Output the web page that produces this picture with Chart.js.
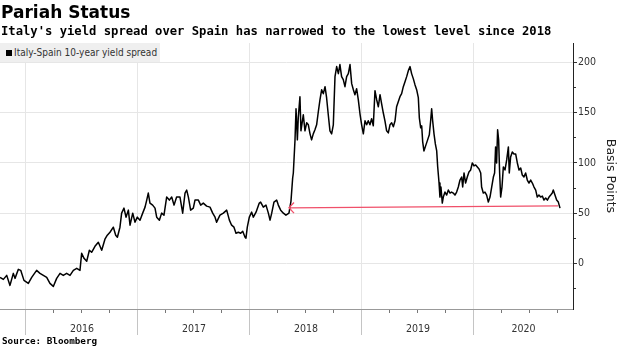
<!DOCTYPE html>
<html>
<head>
<meta charset="utf-8">
<script src="https://cdn.jsdelivr.net/npm/chart.js@4.4.1/dist/chart.umd.min.js"></script>
<style>
  html, body { margin: 0; padding: 0; background: #fff; }
  #wrap { position: relative; width: 620px; height: 348px; overflow: hidden; }
  #chart { position: absolute; left: 0; top: 0; }
  .title { position: absolute; left: 1px; top: 4px; font: bold 17px/17px "DejaVu Sans", sans-serif; color: #000; white-space: nowrap; }
  .subtitle { position: absolute; left: 1px; top: 25px; font: bold 12.2px/12.2px "DejaVu Sans Mono", monospace; color: #000; white-space: nowrap; }
  .legend { position: absolute; left: 0; top: 43px; width: 160px; height: 19px; background: #efefef; z-index: 2; }
  .legend .sq { position: absolute; left: 6px; top: 7px; width: 6px; height: 6px; background: #000; }
  .legend .txt { position: absolute; left: 14px; top: 4px; font: 10px/11px "DejaVu Sans Condensed", "DejaVu Sans", sans-serif; color: #333; white-space: nowrap; }
  .source { position: absolute; left: 2px; top: 336px; font: bold 9.3px/10px "DejaVu Sans Mono", monospace; color: #000; white-space: nowrap; }
</style>
</head>
<body>
<div id="wrap">
  <canvas id="chart" width="620" height="348"></canvas>
  <div class="title">Pariah Status</div>
  <div class="subtitle">Italy's yield spread over Spain has narrowed to the lowest level since 2018</div>
  <div class="legend"><div class="sq"></div><div class="txt">Italy-Spain 10-year yield spread</div></div>
  <div class="source">Source: Bloomberg</div>
</div>
<script>
// 축 범위 (소수 연도 / 베이시스 포인트)
const xMin = 2015.768;
const xMax = 2020.884;
const yMin = -45.5;
const yMax = 219.5;

// x축 연도 라벨과 위치
const yearLabels = ['2016', '2017', '2018', '2019', '2020'];
const yearLabelAt = [2016.5, 2017.5, 2018.5, 2019.5, 2020.442];

// y축 눈금
const bpTicks = [-25, 0, 25, 50, 75, 100, 125, 150, 175, 200];

// 이탈리아-스페인 10년물 스프레드
const spreadYears = [
    2015.768, 2015.798, 2015.828, 2015.857, 2015.887, 2015.902, 2015.932, 2015.953, 2015.982,
    2016.021, 2016.051, 2016.095, 2016.125, 2016.155, 2016.185, 2016.214, 2016.244, 2016.274,
    2016.304, 2016.333, 2016.363, 2016.393, 2016.423, 2016.453, 2016.482, 2016.497, 2016.518,
    2016.542, 2016.566, 2016.586, 2016.616, 2016.646, 2016.676, 2016.705, 2016.726, 2016.750,
    2016.780, 2016.801, 2016.816, 2016.839, 2016.854, 2016.875, 2016.893, 2016.914, 2016.929,
    2016.953, 2016.973, 2016.994,
    2017.018, 2017.042, 2017.063, 2017.078, 2017.092, 2017.107, 2017.131, 2017.152, 2017.167,
    2017.191, 2017.211, 2017.232, 2017.256, 2017.280, 2017.301, 2017.322, 2017.345, 2017.375,
    2017.399, 2017.420, 2017.435, 2017.450, 2017.470, 2017.494, 2017.509, 2017.539, 2017.560,
    2017.583, 2017.613, 2017.643, 2017.667, 2017.688, 2017.702, 2017.732, 2017.762, 2017.792,
    2017.816, 2017.836, 2017.857, 2017.875, 2017.896, 2017.917, 2017.935, 2017.956, 2017.964,
    2017.976, 2017.994,
    2018.015, 2018.030, 2018.054, 2018.083, 2018.095, 2018.119, 2018.143, 2018.164, 2018.179,
    2018.194, 2018.214, 2018.238, 2018.253, 2018.274, 2018.298, 2018.321, 2018.348, 2018.366,
    2018.381, 2018.387, 2018.402, 2018.411, 2018.423, 2018.431, 2018.446, 2018.455, 2018.476,
    2018.491, 2018.506, 2018.521, 2018.536, 2018.550, 2018.565, 2018.580, 2018.595, 2018.610,
    2018.625, 2018.640, 2018.655, 2018.670, 2018.684, 2018.699, 2018.714, 2018.729, 2018.744,
    2018.759, 2018.774, 2018.789, 2018.803, 2018.818, 2018.833, 2018.848, 2018.863, 2018.878,
    2018.893, 2018.908, 2018.923, 2018.937, 2018.952, 2018.967, 2018.982, 2018.997,
    2019.012, 2019.027, 2019.042, 2019.056, 2019.071, 2019.086, 2019.101, 2019.116, 2019.131,
    2019.146, 2019.161, 2019.175, 2019.190, 2019.205, 2019.220, 2019.235, 2019.250, 2019.265,
    2019.280, 2019.295, 2019.309, 2019.324, 2019.339, 2019.354, 2019.369, 2019.384, 2019.399,
    2019.414, 2019.429, 2019.443, 2019.458, 2019.473, 2019.488, 2019.503, 2019.512, 2019.524,
    2019.533, 2019.542, 2019.553, 2019.571, 2019.586, 2019.601, 2019.613, 2019.622, 2019.631,
    2019.643, 2019.655, 2019.667, 2019.676, 2019.688, 2019.696, 2019.705, 2019.717, 2019.726,
    2019.741, 2019.756, 2019.771, 2019.786, 2019.800, 2019.815, 2019.830, 2019.845, 2019.860,
    2019.875, 2019.890, 2019.899, 2019.911, 2019.925, 2019.940, 2019.955, 2019.970, 2019.985,
    2020.000, 2020.015, 2020.030, 2020.045, 2020.060, 2020.068, 2020.083, 2020.098, 2020.113,
    2020.128, 2020.143, 2020.158, 2020.173, 2020.184, 2020.193, 2020.202, 2020.211, 2020.220,
    2020.229, 2020.238, 2020.250, 2020.262, 2020.277, 2020.292, 2020.307, 2020.315, 2020.327,
    2020.342, 2020.357, 2020.372, 2020.387, 2020.402, 2020.417, 2020.431, 2020.446, 2020.461,
    2020.476, 2020.491, 2020.506, 2020.521, 2020.536, 2020.551, 2020.565, 2020.580, 2020.595,
    2020.610, 2020.625, 2020.640, 2020.655, 2020.670, 2020.685, 2020.699, 2020.708, 2020.723,
    2020.738, 2020.753, 2020.768
];
const spreadBps = [
    -14, -16, -12, -22, -10, -15, -6, -7, -17,
    -20, -14, -7, -10, -12, -14, -20, -23, -15,
    -10, -12, -10, -12, -7, -5, -7, 10, 5,
    2, 13, 11, 17, 21, 13, 24, 28, 31,
    36, 28, 26, 36, 50, 55, 46, 53, 38,
    50, 41, 46,
    43, 50, 56, 63, 70, 60, 58, 55, 46,
    43, 50, 48, 66, 63, 66, 58, 66, 66,
    50, 70, 73, 66, 53, 55, 63, 63, 58,
    60, 57, 56, 50, 46, 41, 48, 50, 53,
    43, 38, 36, 30, 31, 30, 32, 26, 25,
    36, 46,
    51, 46, 51, 60, 61, 56, 58, 50, 43,
    50, 61, 63, 58, 53, 50, 48, 50, 62,
    85, 90, 123, 154, 123, 145, 166, 132, 148,
    132, 140, 138, 129, 123, 129, 133, 138, 151,
    163, 173, 169, 176, 165, 148, 132, 129, 138,
    186, 196, 189, 198, 186, 183, 176, 186, 189,
    198, 179, 173, 168, 174, 163, 149, 138,
    129, 142, 138, 142, 138, 144, 137, 172, 163,
    156, 168, 159, 150, 142, 132, 130, 138, 140,
    136, 142, 156, 161, 166, 169, 176, 181, 186,
    192, 196, 189, 184, 178, 173, 165, 145, 135,
    137, 121, 112, 118, 123, 128, 142, 154, 142,
    129, 119, 112, 96, 80, 66, 76, 60, 66,
    71, 68, 73, 70, 71, 70, 68, 71, 76,
    83, 86, 76, 90, 80, 86, 91, 93, 100,
    97, 98, 96, 94, 90, 76, 70, 71, 68,
    61, 66, 76, 86, 90, 116, 100, 133, 123,
    90, 66, 76, 96, 93, 103, 116, 90, 106,
    111, 109, 109, 100, 93, 95, 88, 86, 90,
    83, 80, 83, 80, 76, 73, 66, 68, 66,
    67, 63, 65, 63, 66, 68, 70, 73, 68,
    63, 61, 55
];

// 빨간 화살표 (2018년 수준 표시)
const arrowYears = [2018.348, 2020.750];
const arrowBps = [55.3, 57.3];
const arrowHeadYears = [2018.393, 2018.348, 2018.393];
const arrowHeadBps = [60.6, 55.3, 50.0];

function near(a, b) { return Math.abs(a - b) < 1e-6; }
function isYear(v) { return near(v, Math.round(v)); }
function isQuarter(v) { return near(v * 4, Math.round(v * 4)); }

const tickFont = { family: '"DejaVu Sans Condensed", "DejaVu Sans", sans-serif', size: 10.5 };

function createChart() {
    const ctx = document.getElementById('chart').getContext('2d');
    new Chart(ctx, {
        type: 'line',
        data: {
            datasets: [{
                data: arrowHeadYears.map((x, i) => ({ x: x, y: arrowHeadBps[i] })),
                borderColor: '#f0506a',
                borderWidth: 1.3,
                pointRadius: 0,
                tension: 0
            }, {
                data: arrowYears.map((x, i) => ({ x: x, y: arrowBps[i] })),
                borderColor: '#f0506a',
                borderWidth: 1.3,
                pointRadius: 0,
                tension: 0
            }, {
                label: 'Italy-Spain 10-year yield spread',
                data: spreadYears.map((x, i) => ({ x: x, y: spreadBps[i] })),
                borderColor: '#000',
                borderWidth: 1.5,
                borderJoinStyle: 'round',
                pointRadius: 0,
                tension: 0
            }]
        },
        options: {
            responsive: false,
            animation: false,
            layout: { padding: { top: 43, left: 0, right: 0, bottom: 0 } },
            plugins: { legend: { display: false }, tooltip: { enabled: false } },
            scales: {
                x: {
                    type: 'linear',
                    min: xMin,
                    max: xMax,
                    afterBuildTicks: function (s) {
                        const t = [];
                        for (let q = 2016; q <= xMax; q += 0.25) t.push(q);
                        yearLabelAt.forEach(v => { if (!t.some(u => near(u, v))) t.push(v); });
                        t.sort((a, b) => a - b);
                        s.ticks = t.map(v => ({ value: v }));
                    },
                    afterFit: function (s) { s.height = 39; },
                    grid: {
                        color: c => (c.tick && isYear(c.tick.value)) ? '#e6e6e6' : 'rgba(0,0,0,0)',
                        tickColor: c => {
                            if (!c.tick) return 'rgba(0,0,0,0)';
                            if (isYear(c.tick.value)) return '#c4c4c4';
                            return isQuarter(c.tick.value) ? '#777' : 'rgba(0,0,0,0)';
                        },
                        tickLength: 26,
                        tickBorderDash: c => (c.tick && isYear(c.tick.value)) ? [] : [3, 40]
                    },
                    border: { color: '#999' },
                    ticks: {
                        autoSkip: false,
                        maxRotation: 0,
                        padding: -12,
                        color: '#333',
                        font: tickFont,
                        callback: function (v) {
                            const i = yearLabelAt.findIndex(p => near(p, v));
                            return i < 0 ? '' : yearLabels[i];
                        }
                    }
                },
                y: {
                    position: 'right',
                    min: yMin,
                    max: yMax,
                    afterBuildTicks: function (s) { s.ticks = bpTicks.map(v => ({ value: v })); },
                    afterFit: function (s) { s.width = 47; },
                    grid: {
                        color: c => (c.tick && c.tick.value % 50 === 0) ? '#e6e6e6' : 'rgba(0,0,0,0)',
                        tickColor: '#333',
                        tickLength: 4,
                        tickBorderDash: c => (c.tick && c.tick.value % 50 === 0) ? [] : [2, 10]
                    },
                    border: { color: '#222' },
                    ticks: {
                        padding: 1,
                        color: '#333',
                        font: tickFont,
                        callback: v => (v % 50 === 0 ? String(v) : '')
                    },
                    title: {
                        display: true,
                        text: 'Basis Points',
                        color: '#222',
                        font: { family: '"DejaVu Sans", sans-serif', size: 12.5 },
                        padding: { top: 2, bottom: 0 }
                    }
                }
            }
        }
    });
}

document.addEventListener('DOMContentLoaded', function () {
    createChart();
});
</script>
</body>
</html>
